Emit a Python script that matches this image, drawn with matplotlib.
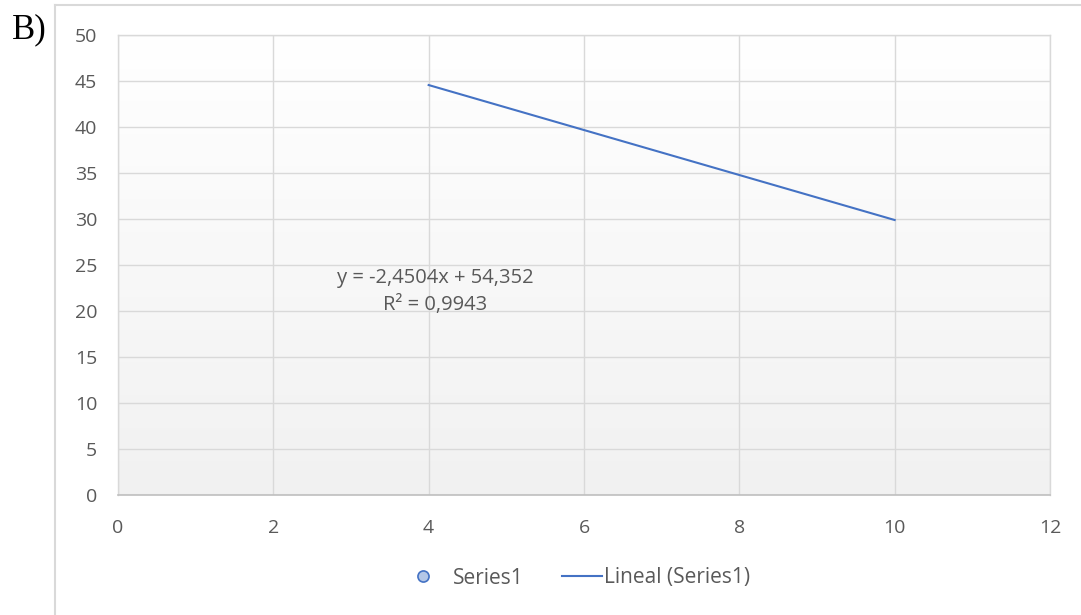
import numpy as np
import matplotlib
matplotlib.use("Agg")
import matplotlib.pyplot as plt
from matplotlib.lines import Line2D

# data (points estimated so that the linear fit matches the trendline shown)
x_vals = [4, 6, 8, 10]
y_vals = [44.6, 39.7, 34.6, 30.0]
x_ticks = [0, 2, 4, 6, 8, 10, 12]
y_ticks = [0, 5, 10, 15, 20, 25, 30, 35, 40, 45, 50]
eq_text = "y = -2,4504x + 54,352\nR² = 0,9943"
panel_label = "B)"
series_name = "Series1"
trend_name = "Lineal (Series1)"

plt.rcParams['font.family'] = ['Open Sans', 'DejaVu Sans']

W, H = 1081, 615
fig = plt.figure(figsize=(W/100, H/100), dpi=100)
fig.patch.set_facecolor('white')

L, R, T, B = 118, 1050, 35, 495
ax = fig.add_axes([L/W, 1-B/H, (R-L)/W, (B-T)/H])

# gradient background
grad = np.linspace(1.0, 0.0, 256).reshape(-1, 1)
top = np.array([1.0, 1.0, 1.0]); bot = np.array([0.945, 0.945, 0.945])
img = top[None, None, :] * grad[:, :, None] + bot[None, None, :] * (1 - grad[:, :, None])
ax.imshow(img, extent=[0, 1, 0, 1], transform=ax.transAxes, aspect='auto', zorder=0)

ax.set_xlim(0, 12)
ax.set_ylim(0, 50)
ax.set_xticks(x_ticks)
ax.set_yticks(y_ticks)
ax.grid(True, color='#d9d9d9', linewidth=1.0, zorder=1)
ax.set_axisbelow(True)
for s in ['top', 'right', 'left']:
    ax.spines[s].set_color('#d9d9d9')
    ax.spines[s].set_linewidth(1.0)
ax.spines['bottom'].set_color('#bfbfbf')
ax.spines['bottom'].set_linewidth(1.2)
ax.tick_params(length=0, labelsize=14, labelcolor='#595959')
ax.tick_params(axis='y', pad=15)
ax.tick_params(axis='x', pad=17)

# trendline
coef = np.polyfit(x_vals, y_vals, 1)
xs = np.array([min(x_vals), max(x_vals)])
ax.plot(xs, np.polyval(coef, xs), color='#4472C4', linewidth=1.5, zorder=3)

ax.text(4.08, 22.1, eq_text, ha='center', va='center', fontsize=14.5,
        color='#595959', linespacing=1.5, zorder=4)

# chart-area frame (left and top edges)
fig.add_artist(Line2D([55/W, 55/W], [0, 1-5/H], transform=fig.transFigure,
                      color='#d9d9d9', linewidth=1.5))
fig.add_artist(Line2D([55/W, 1], [1-5/H, 1-5/H], transform=fig.transFigure,
                      color='#d9d9d9', linewidth=1.5))

fig.text(12/W, 1-30/H, panel_label, fontsize=25, family='Liberation Serif',
         ha='left', va='center', color='black')

h1 = Line2D([], [], linestyle='none', marker='o', markersize=8,
            markerfacecolor='#b4c7e7', markeredgecolor='#4472C4', markeredgewidth=1.2)
h2 = Line2D([], [], color='#4472C4', linewidth=1.5)
leg1 = fig.legend([h1], [series_name], loc='center',
                  bbox_to_anchor=(468/W, 1-578/H), frameon=False,
                  fontsize=15, labelcolor='#595959', handlelength=1.0,
                  handletextpad=0.93, borderpad=0, borderaxespad=0)
leg2 = fig.legend([h2], [trend_name], loc='center',
                  bbox_to_anchor=(656/W, 1-578/H), frameon=False,
                  fontsize=15, labelcolor='#595959', handlelength=1.92,
                  handletextpad=0.1, borderpad=0, borderaxespad=0)

fig.savefig('out.png', dpi=100)
